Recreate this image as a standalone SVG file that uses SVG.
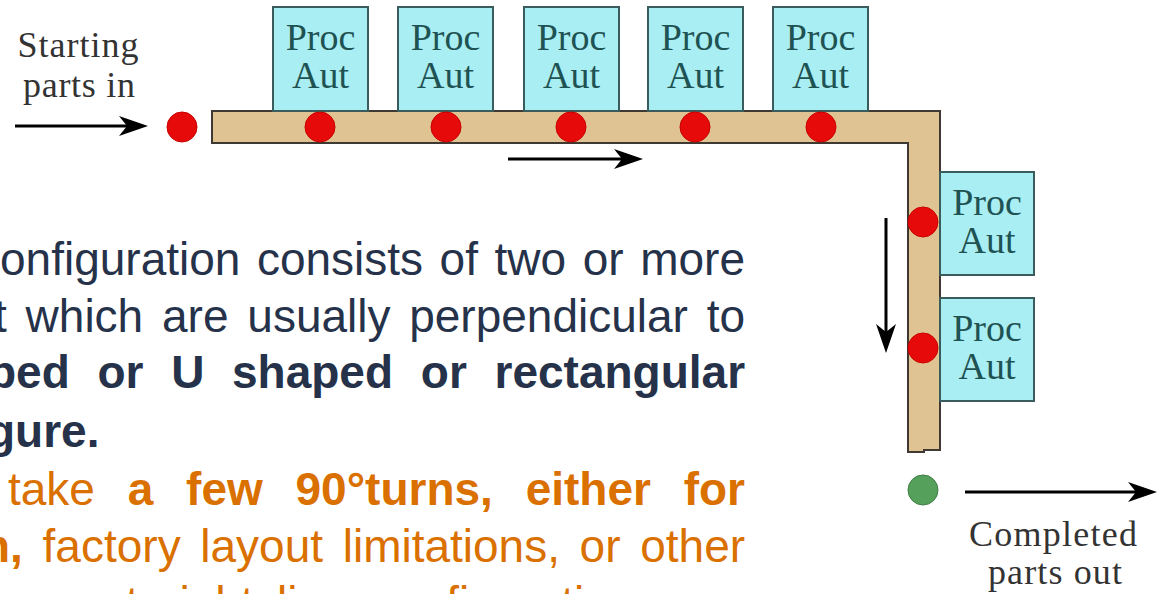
<svg xmlns="http://www.w3.org/2000/svg" width="1157" height="594" viewBox="0 0 1157 594">
<style>
.bar{fill:#dfc393;stroke:#3e3a33;stroke-width:2}
.box{fill:#a9eef3;stroke:#3b5c5c;stroke-width:2}
.bt{font-family:"Liberation Serif",serif;font-size:38px;fill:#1f5252;text-anchor:middle}
.lab{font-family:"Liberation Serif",serif;font-size:36px;fill:#333;text-anchor:middle}
.red{fill:#e70a0a;stroke:#c80000;stroke-width:1}
.grn{fill:#55a05a;stroke:#3e7d44;stroke-width:1}
.arr{stroke:#000;stroke-width:3;fill:none}
.nv{font-family:"Liberation Sans",Arial,sans-serif;font-size:46px;fill:#25324a}
.or{font-family:"Liberation Sans",Arial,sans-serif;font-size:46px;fill:#d97000}
.b{font-weight:bold}
</style>
<defs>
<marker id="ah" markerUnits="userSpaceOnUse" markerWidth="42" markerHeight="24" viewBox="-31 -12 42 24" refX="-10" refY="0" orient="auto">
<path d="M0,0 L-29,-10 L-21,0 L-29,10 Z" fill="#000"/>
</marker>
</defs>
<rect width="1157" height="594" fill="#fff"/>

<g id="conveyor">
<path class="bar" d="M212,111 H940 V450 H924 V452 H908 V143 H212 Z"/>
</g>

<g id="station1"><rect class="box" x="273" y="7" width="95" height="104"/><text class="bt" x="320.5" y="50">Proc</text><text class="bt" x="320.5" y="88">Aut</text></g>
<g id="station2"><rect class="box" x="398" y="7" width="95" height="104"/><text class="bt" x="445.5" y="50">Proc</text><text class="bt" x="445.5" y="88">Aut</text></g>
<g id="station3"><rect class="box" x="524" y="7" width="95" height="104"/><text class="bt" x="571.5" y="50">Proc</text><text class="bt" x="571.5" y="88">Aut</text></g>
<g id="station4"><rect class="box" x="648" y="7" width="95" height="104"/><text class="bt" x="695.5" y="50">Proc</text><text class="bt" x="695.5" y="88">Aut</text></g>
<g id="station5"><rect class="box" x="773" y="7" width="95" height="104"/><text class="bt" x="820.5" y="50">Proc</text><text class="bt" x="820.5" y="88">Aut</text></g>
<g id="station6"><rect class="box" x="940" y="172" width="94" height="103"/><text class="bt" x="987" y="215">Proc</text><text class="bt" x="987" y="253">Aut</text></g>
<g id="station7"><rect class="box" x="940" y="298" width="94" height="103"/><text class="bt" x="987" y="341">Proc</text><text class="bt" x="987" y="379">Aut</text></g>

<g id="parts">
<circle class="red" cx="182" cy="127" r="15"/>
<circle class="red" cx="320" cy="127" r="15"/>
<circle class="red" cx="446" cy="127" r="15"/>
<circle class="red" cx="571" cy="127" r="15"/>
<circle class="red" cx="695" cy="127" r="15"/>
<circle class="red" cx="821" cy="127" r="15"/>
<circle class="red" cx="923" cy="222" r="15"/>
<circle class="red" cx="923" cy="348" r="15"/>
<circle class="grn" cx="923" cy="490" r="15"/>
</g>

<g id="connectors">
<line class="arr" x1="15" y1="126" x2="138" y2="126" marker-end="url(#ah)"/>
<line class="arr" x1="508" y1="159" x2="633" y2="159" marker-end="url(#ah)"/>
<line class="arr" x1="886" y1="218" x2="886" y2="343" marker-end="url(#ah)"/>
<line class="arr" x1="965" y1="492" x2="1147" y2="492" marker-end="url(#ah)"/>
</g>

<g id="label-in">
<text class="lab" x="78" y="57" textLength="121" lengthAdjust="spacing">Starting</text>
<text class="lab" x="79" y="97" textLength="112" lengthAdjust="spacing">parts in</text>
</g>
<g id="label-out">
<text class="lab" x="1053" y="546" textLength="168" lengthAdjust="spacing">Completed</text>
<text class="lab" x="1055" y="584" textLength="134" lengthAdjust="spacing">parts out</text>
</g>

<g id="paragraph">
<text class="nv" y="275"><tspan x="0">onfiguration</tspan><tspan x="256.9">consists</tspan><tspan x="439.6">of</tspan><tspan x="494.6">two</tspan><tspan x="582.7">or</tspan><tspan x="640.2">more</tspan></text>
<text class="nv" y="332"><tspan x="-6">t</tspan><tspan x="25.6">which</tspan><tspan x="162">are</tspan><tspan x="247.3">usually</tspan><tspan x="409.2">perpendicular</tspan><tspan x="706.7">to</tspan></text>
<text class="nv b" y="388"><tspan x="-12">ped</tspan><tspan x="97.5">or</tspan><tspan x="171.2">U</tspan><tspan x="232">shaped</tspan><tspan x="420.8">or</tspan><tspan x="494.5">rectangular</tspan></text>
<text class="nv b" x="-13" y="447">gure.</text>
<text class="or" y="505"><tspan x="8">take</tspan><tspan class="b" x="127.7">a</tspan><tspan class="b" x="186.1">few</tspan><tspan class="b" x="295.5">90°turns,</tspan><tspan class="b" x="525.7">either</tspan><tspan class="b" x="683.7">for</tspan></text>
<text class="or" y="562"><tspan class="b" x="-18">n,</tspan><tspan x="42.6">factory</tspan><tspan x="200.3">layout</tspan><tspan x="342.7">limitations,</tspan><tspan x="579.6">or</tspan><tspan x="640.2">other</tspan></text>
<text class="or" y="619"><tspan x="102.8">straight</tspan><tspan x="277">line</tspan><tspan x="372">configuration</tspan></text>
</g>
</svg>
